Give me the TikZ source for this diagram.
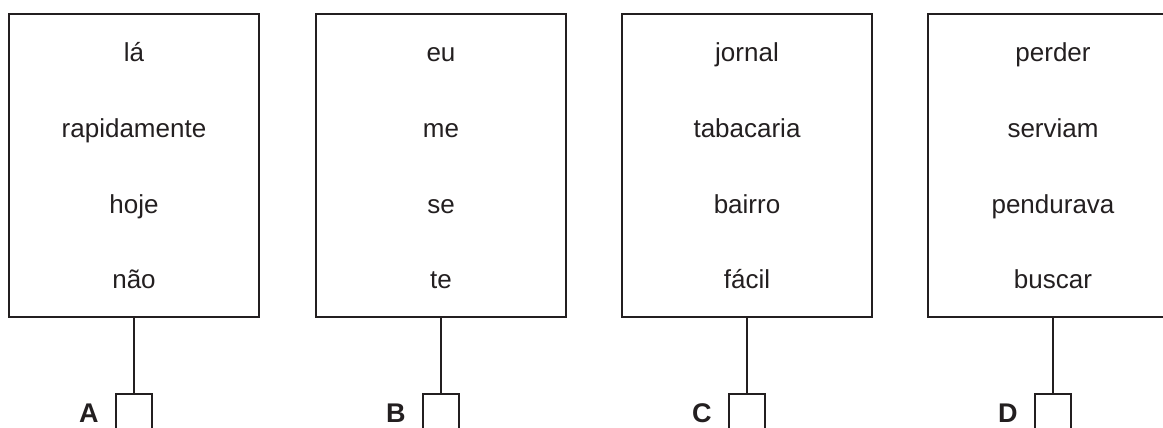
\documentclass[tikz,border=0pt]{standalone}
\usepackage{fontspec}
\setmainfont{Liberation Sans}
\definecolor{ink}{RGB}{35,31,32}
\begin{document}
\begin{tikzpicture}[x=1pt,y=-1pt,
  wordbox/.style={draw=ink,line width=2.2pt,inner sep=0pt,minimum width=250pt,minimum height=303pt},
  tickbox/.style={draw=ink,line width=2.2pt,inner sep=0pt,minimum size=36pt},
  word/.style={anchor=base,inner sep=0pt,text=ink,font=\fontsize{26}{30}\selectfont},
  letter/.style={anchor=base east,inner sep=0pt,text=ink,font=\fontsize{27}{30}\selectfont\bfseries},
  link/.style={draw=ink,line width=2.2pt}]
\clip (0,0) rectangle (1163,428);
\useasboundingbox (0,0) rectangle (1163,428);
\foreach \n/\cx/\myA/\myB/\myC/\myD in {A/134/lá/rapidamente/hoje/não, B/441/eu/me/se/te, C/747/jornal/tabacaria/bairro/fácil, D/1053/perder/serviam/pendurava/buscar}{
  \node[wordbox] (box\n) at (\cx,165.5) {};
  \node[word] (w1\n) at (\cx,62) {\myA};
  \node[word] (w2\n) at (\cx,138) {\myB};
  \node[word] (w3\n) at (\cx,213) {\myC};
  \node[word] (w4\n) at (\cx,288) {\myD};
  \node[tickbox] (sq\n) at (\cx,412) {};
  \node[letter] (lab\n) at ([xshift=-16pt]sq\n.west |- 0,422) {\n};
  \draw[link] (box\n.south) -- (sq\n.north);
}
\end{tikzpicture}
\end{document}
